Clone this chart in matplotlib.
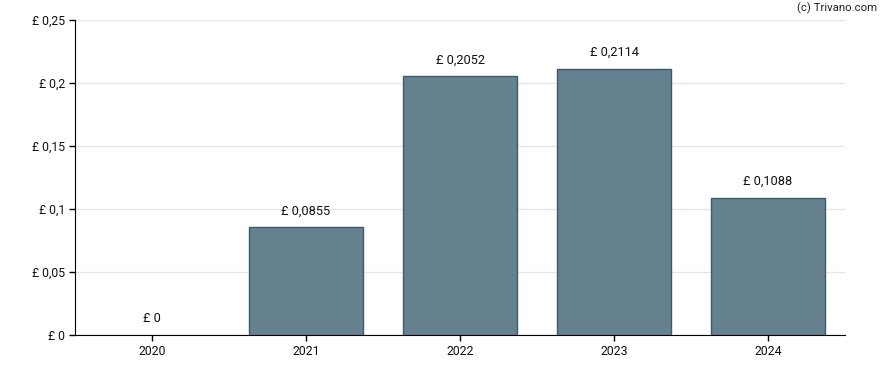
import matplotlib
matplotlib.use("Agg")
import matplotlib.pyplot as plt

plt.rcParams['font.family'] = ['Roboto', 'DejaVu Sans']

years = ["2020", "2021", "2022", "2023", "2024"]
values = [0.0, 0.0855, 0.2052, 0.2114, 0.1088]
labels = ["£ 0", "£ 0,0855", "£ 0,2052", "£ 0,2114", "£ 0,1088"]
yticks = [0, 0.05, 0.1, 0.15, 0.2, 0.25]
ytick_labels = ["£ 0", "£ 0,05", "£ 0,1", "£ 0,15", "£ 0,2", "£ 0,25"]

fig = plt.figure(figsize=(8.88, 3.70), dpi=100)
ax = fig.add_axes([75/888, 35/370, 770/888, 315/370])

x = list(range(len(years)))
lws = [1 if v > 0 else 0 for v in values]
ax.bar(x, values, width=0.74, color="#65818f", edgecolor="#3f5a6a", linewidth=lws, zorder=3)
for xi, v, lab in zip(x, values, labels):
    ax.annotate(lab, (xi, v), xytext=(0, 7), textcoords="offset points",
                ha="center", va="bottom", fontsize=9.2, color="#111111")

ax.set_xlim(-0.5, 4.5)
ax.set_ylim(0, 0.25)
ax.set_xticks(x)
ax.set_xticklabels(years, fontsize=8.8)
ax.set_yticks(yticks)
ax.set_yticklabels(ytick_labels, fontsize=8.8)
ax.grid(axis="y", color="#e6e6e6", linewidth=1, zorder=0)
ax.set_axisbelow(True)
for s in ["top", "right"]:
    ax.spines[s].set_visible(False)
ax.spines["left"].set_color("black")
ax.spines["bottom"].set_color("black")
ax.tick_params(axis="both", length=4, width=1, color="black", pad=3, labelcolor="#111111")

fig.text(877/888, 1 - 8/370, "(c) Trivano.com", ha="right", va="center", fontsize=8.2, color="#222222")

fig.savefig("out.png", dpi=100)
